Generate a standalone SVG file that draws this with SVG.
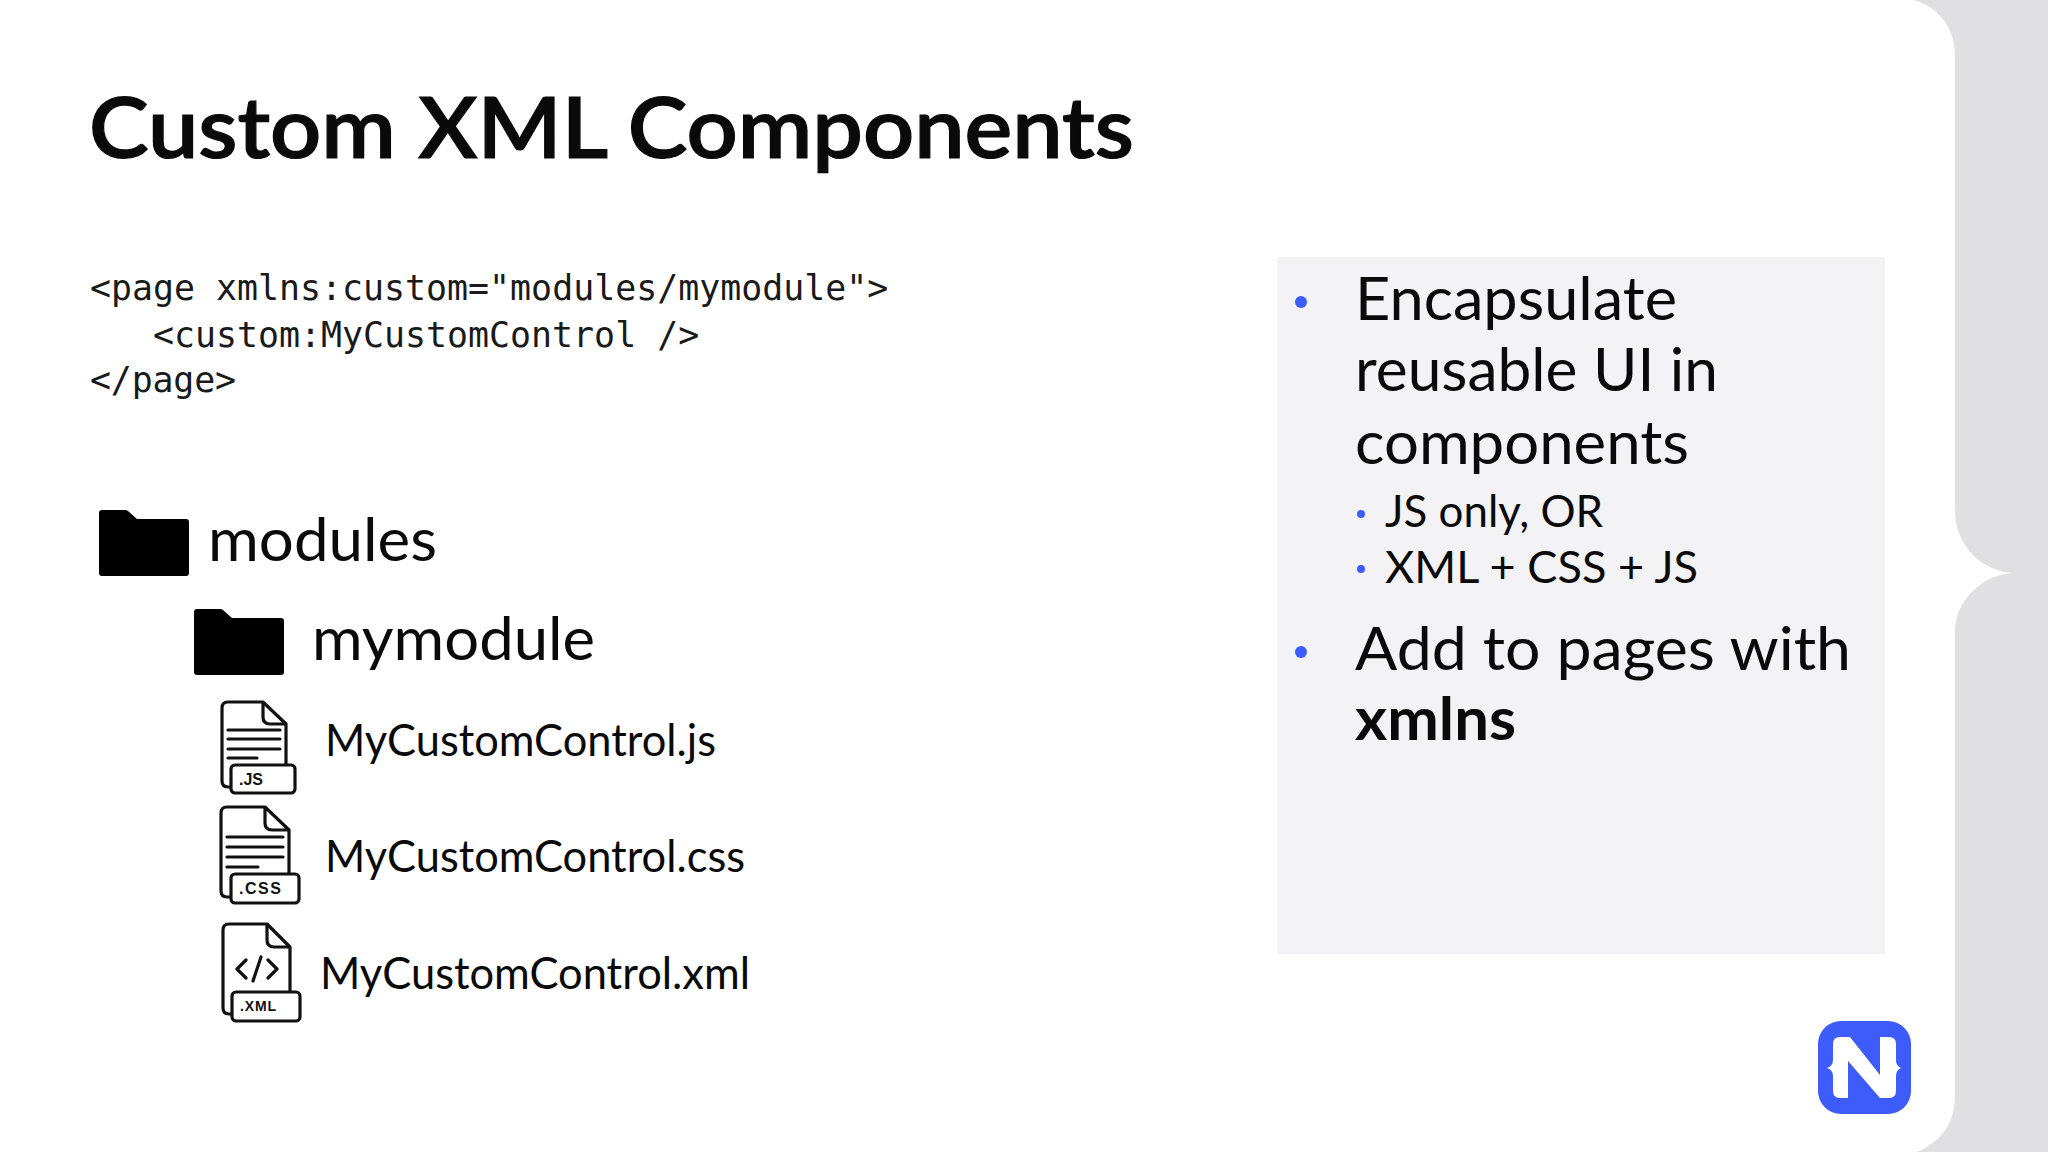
<svg xmlns="http://www.w3.org/2000/svg" width="2048" height="1152" viewBox="0 0 2048 1152">
<style>
.t{font-family:"Lato","Open Sans",sans-serif;fill:#0a0a0a}
.c{font-family:"DejaVu Sans Mono","Liberation Mono",monospace;font-size:34.9px;fill:#1a1a1a}
.b{fill:#3e5cfb}
.i{fill:none;stroke:#111;stroke-width:3.2;stroke-linejoin:round;stroke-linecap:round}
.lb{fill:#fff;stroke:#111;stroke-width:3.2}
.el{font-family:"Liberation Sans",Arial,sans-serif;font-size:16px;font-weight:700;fill:#111}
</style>
<defs>
<path id="folder" d="M3 0H26Q28 0 29 1L38 9H87Q90 9 90 12V63Q90 66 87 66H3Q0 66 0 63V3Q0 0 3 0Z" fill="#000"/>
</defs>
<rect width="2048" height="1152" fill="#e0dfe1"/>
<path d="M0 0H1913C1938 6 1955 28 1955 55V510C1955 548 1985 572 2013 573C1985 574 1955 598 1955 632V1095C1955 1125 1940 1142 1917 1152H0Z" fill="#fff"/>
<rect x="1277" y="257" width="608" height="697" fill="#f3f3f5"/>
<text id="title" class="t" x="89" y="158" font-size="85" font-weight="600" stroke="#0a0a0a" stroke-width="1.2" textLength="1045" lengthAdjust="spacingAndGlyphs">Custom XML Components</text>
<g id="code">
<text class="c" x="90" y="300">&lt;page xmlns:custom="modules/mymodule"&gt;</text>
<text class="c" x="153" y="347">&lt;custom:MyCustomControl /&gt;</text>
<text class="c" x="90" y="392" textLength="146">&lt;/page&gt;</text>
</g>
<g id="modules">
<use href="#folder" x="99" y="510"/>
<text class="t" x="208" y="561" font-size="60" textLength="229" lengthAdjust="spacingAndGlyphs">modules</text>
</g>
<g id="mymodule">
<use href="#folder" x="194" y="609"/>
<text class="t" x="312" y="660" font-size="60" textLength="283" lengthAdjust="spacingAndGlyphs">mymodule</text>
</g>
<g id="file-js">
<path class="i" d="M231 787H228Q222 787 222 781V708Q222 702 228 702H263L286 724V765M263 702V717Q263 724 270 724H286M228 730H280M228 739H280M228 749H280M228 758H257"/>
<rect class="lb" x="231" y="765" width="64" height="28" rx="4"/>
<text class="el" x="239" y="785">.JS</text>
<text class="t" x="325" y="756" font-size="44" textLength="391" lengthAdjust="spacingAndGlyphs">MyCustomControl.js</text>
</g>
<g id="file-css">
<path class="i" d="M231 897H227Q221 897 221 891V813Q221 807 227 807H265L289 830V874M265 807V823Q265 830 272 830H289M227 837H283M227 847H283M227 857H283M227 867H258"/>
<rect class="lb" x="231" y="874" width="68" height="29" rx="4"/>
<text class="el" x="239" y="894" textLength="42">.CSS</text>
<text class="t" x="325" y="872" font-size="44" textLength="420" lengthAdjust="spacingAndGlyphs">MyCustomControl.css</text>
</g>
<g id="file-xml">
<path class="i" d="M232 1014H229Q223 1014 223 1008V930Q223 924 229 924H267L290 947V992M267 924V940Q267 947 274 947H290"/>
<path class="i" d="M246 960L237 969L246 978M268 960L277 969L268 978M261 957L253 981" stroke-width="3.8"/>
<rect class="lb" x="232" y="992" width="68" height="29" rx="4"/>
<text class="el" x="240" y="1011" style="font-size:14px" textLength="36">.XML</text>
<text class="t" x="320" y="989" font-size="44" textLength="430" lengthAdjust="spacingAndGlyphs">MyCustomControl.xml</text>
</g>
<g id="panel-text">
<circle class="b" cx="1301" cy="302" r="6"/>
<text class="t" x="1355" y="320" font-size="60" textLength="322" lengthAdjust="spacingAndGlyphs">Encapsulate</text>
<text class="t" x="1355" y="391" font-size="60" textLength="363" lengthAdjust="spacingAndGlyphs">reusable UI in</text>
<text class="t" x="1355" y="464" font-size="60" textLength="334" lengthAdjust="spacingAndGlyphs">components</text>
<circle class="b" cx="1361" cy="514" r="4"/>
<text class="t" x="1385" y="527" font-size="44" textLength="218" lengthAdjust="spacingAndGlyphs">JS only, OR</text>
<circle class="b" cx="1361" cy="569" r="4"/>
<text class="t" x="1385" y="583" font-size="44" textLength="313" lengthAdjust="spacingAndGlyphs">XML + CSS + JS</text>
<circle class="b" cx="1301" cy="652" r="6"/>
<text class="t" x="1355" y="670" font-size="60" textLength="496" lengthAdjust="spacingAndGlyphs">Add to pages with</text>
<text class="t" x="1355" y="740" font-size="60" font-weight="700" textLength="161" lengthAdjust="spacingAndGlyphs">xmlns</text>
</g>
<g id="logo">
<rect x="1818" y="1021" width="93" height="93" rx="23" fill="#3e5cfb"/>
<path fill="#fff" d="M1840 1037H1850L1880 1075V1037H1889Q1896 1037 1896 1044V1060Q1896 1066 1901 1068Q1896 1070 1896 1076V1091Q1896 1098 1889 1098H1880L1848 1061V1098H1840Q1833 1098 1833 1091V1076Q1833 1070 1827 1068Q1833 1066 1833 1060V1044Q1833 1037 1840 1037Z"/>
</g>
</svg>
